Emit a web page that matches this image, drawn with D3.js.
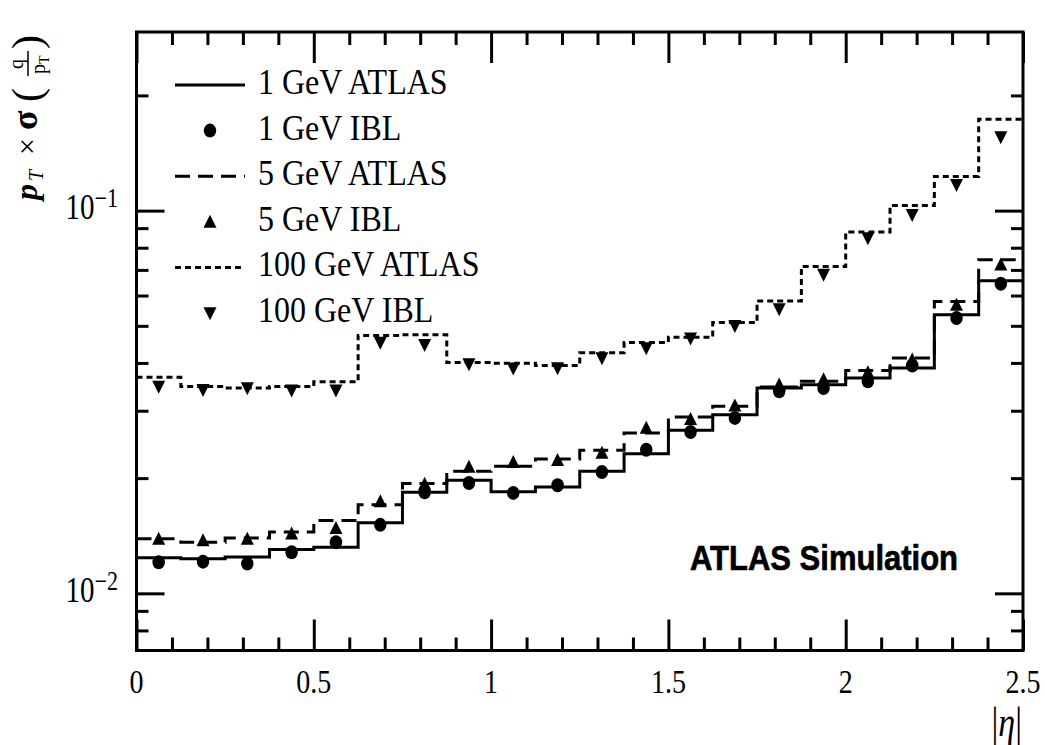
<!DOCTYPE html>
<html>
<head>
<meta charset="utf-8">
<script src="https://cdn.jsdelivr.net/npm/d3@7"></script>
<style>
    body { margin: 0; background: #fff; }
    svg { display: block; }
    .axis path, .axis line { stroke: #000; stroke-width: 3; }
</style>
</head>
<body>
<svg id="chart" width="1045" height="745"></svg>
<script>
// bin low edges in |eta|
const binLow = [0, 0.125, 0.25, 0.375, 0.5, 0.625, 0.75, 0.875, 1.0, 1.125,
    1.25, 1.375, 1.5, 1.625, 1.75, 1.875, 2.0, 2.125, 2.25, 2.375]
const binUp = 2.5

// pT * sigma(q/pT) per bin
const atlas1 = [0.01238, 0.01231, 0.01245, 0.01301, 0.01320, 0.01528, 0.01837, 0.01974, 0.01842, 0.01897,
    0.02084, 0.02317, 0.02667, 0.02929, 0.03440, 0.03510, 0.03653, 0.03880, 0.05345, 0.06557]
const ibl1 = [0.01206, 0.01210, 0.01196, 0.01280, 0.01360, 0.01510, 0.01837, 0.01942, 0.01830, 0.01916,
    0.02076, 0.02373, 0.02640, 0.02873, 0.03372, 0.03440, 0.03580, 0.03940, 0.05240, 0.06440]
const atlas5 = [0.01388, 0.01360, 0.01396, 0.01447, 0.01549, 0.01705, 0.01935, 0.02084, 0.02148, 0.02245,
    0.02364, 0.02624, 0.02890, 0.03080, 0.03460, 0.03580, 0.03824, 0.04120, 0.05789, 0.07437]
const ibl5 = [0.01388, 0.01375, 0.01388, 0.01433, 0.01480, 0.01739, 0.01932, 0.02141, 0.02201, 0.02227,
    0.02327, 0.02704, 0.02852, 0.03092, 0.03510, 0.03620, 0.03780, 0.04080, 0.05670, 0.07220]
const atlas100 = [0.0367, 0.0347, 0.0344, 0.0347, 0.0357, 0.0472, 0.0474, 0.0401, 0.0399, 0.0394,
    0.0425, 0.0452, 0.0467, 0.0510, 0.0581, 0.0715, 0.0879, 0.1031, 0.1228, 0.1733]
const ibl100 = [0.0347, 0.0340, 0.0344, 0.0339, 0.0339, 0.0452, 0.0446, 0.0397, 0.0387, 0.0388,
    0.0412, 0.0437, 0.0464, 0.0500, 0.0553, 0.0680, 0.0848, 0.0975, 0.1168, 0.1556]

const legendLabels = ["1 GeV ATLAS", "1 GeV IBL", "5 GeV ATLAS", "5 GeV IBL", "100 GeV ATLAS", "100 GeV IBL"]
const xTicksMajor = [0, 0.5, 1, 1.5, 2, 2.5]
const xTickLabels = ["0", "0.5", "1", "1.5", "2", "2.5"]
const yTicksMajor = [0.01, 0.1]
const yTickExp = ["\u22122", "\u22121"]
const yTicksMinor = [0.008, 0.009, 0.02, 0.03, 0.04, 0.05, 0.06, 0.07, 0.08, 0.09, 0.2]

let margin = {top: 32, right: 22, bottom: 94.5, left: 136.5}
    , W = 1045, H = 745
let x0 = margin.left, x1 = W - margin.right
let y0 = H - margin.bottom, y1 = margin.top

let xScale = d3.scaleLinear().domain([0, 2.5]).range([x0, x1])
let yScale = d3.scaleLog().domain([0.00709, 0.2929]).range([y0, y1])

const svg = d3.select("#chart")
const serif = "'Liberation Serif', 'Times New Roman', serif"

// custom marker shapes (slightly taller than wide, like the original)
const triUp = { draw(ctx, size) { let s = Math.sqrt(size); ctx.moveTo(0, -0.55 * s); ctx.lineTo(0.5 * s, 0.45 * s); ctx.lineTo(-0.5 * s, 0.45 * s); ctx.closePath() } }
const triDown = { draw(ctx, size) { let s = Math.sqrt(size); ctx.moveTo(0, 0.55 * s); ctx.lineTo(0.5 * s, -0.45 * s); ctx.lineTo(-0.5 * s, -0.45 * s); ctx.closePath() } }
const dot = { draw(ctx, size) { let r = Math.sqrt(size) / 2; ctx.moveTo(r, 0); ctx.arc(0, 0, r, 0, 2 * Math.PI) } }

const series = [
    {name: legendLabels[0], values: atlas1, kind: "line", dash: null},
    {name: legendLabels[1], values: ibl1, kind: "marker", shape: dot, size: 156, sy: 1.12},
    {name: legendLabels[2], values: atlas5, kind: "line", dash: "15,8"},
    {name: legendLabels[3], values: ibl5, kind: "marker", shape: triUp, size: 169, sy: 1.0},
    {name: legendLabels[4], values: atlas100, kind: "line", dash: "6,4"},
    {name: legendLabels[5], values: ibl100, kind: "marker", shape: triDown, size: 169, sy: 1.0},
]

// plot region clip
svg.append("clipPath").attr("id", "clip")
    .append("rect").attr("x", x0).attr("y", y1).attr("width", x1 - x0).attr("height", y0 - y1)

let plot = svg.append("g").attr("clip-path", "url(#clip)")

let step = d3.line()
    .x(d => xScale(d[0]))
    .y(d => yScale(d[1]))
    .curve(d3.curveStepAfter)

series.filter(s => s.kind === "line").forEach(s => {
    let pts = binLow.map((e, i) => [e, s.values[i]])
    pts.push([binUp, s.values[s.values.length - 1]])
    plot.append("path")
        .datum(pts)
        .attr("fill", "none")
        .attr("stroke", "#000")
        .attr("stroke-width", 3)
        .attr("stroke-dasharray", s.dash)
        .attr("d", step)
})

series.filter(s => s.kind === "marker").forEach(s => {
    let sym = d3.symbol().type(s.shape).size(s.size)
    plot.selectAll(null)
        .data(s.values)
        .enter().append("path")
        .attr("transform", (d, i) => "translate(" + xScale(binLow[i] + 0.0625) + "," + yScale(d) + ") scale(1," + s.sy + ")")
        .attr("d", sym)
        .attr("fill", "#000")
})

// axes: ticks on all four sides, pointing inward
function xAxis(gen, ticks, size, y) {
    svg.append("g").attr("class", "axis")
        .attr("transform", "translate(0," + y + ")")
        .call(gen(xScale).tickValues(ticks).tickSize(size).tickSizeOuter(0).tickFormat(""))
        .call(g => g.select(".domain").remove())
}
function yAxis(gen, ticks, size, x) {
    svg.append("g").attr("class", "axis")
        .attr("transform", "translate(" + x + ",0)")
        .call(gen(yScale).tickValues(ticks).tickSize(size).tickSizeOuter(0).tickFormat(""))
        .call(g => g.select(".domain").remove())
}
let xMinor = d3.range(1, 25).map(i => +(i * 0.1).toFixed(1)).filter(v => v % 0.5 !== 0)
xAxis(d3.axisBottom, xTicksMajor, -31, y0)
xAxis(d3.axisBottom, xMinor, -13, y0)
xAxis(d3.axisTop, xTicksMajor, -31, y1)
xAxis(d3.axisTop, xMinor, -13, y1)
yAxis(d3.axisLeft, yTicksMajor, -28, x0)
yAxis(d3.axisLeft, yTicksMinor, -12, x0)
yAxis(d3.axisRight, yTicksMajor, -28, x1)
yAxis(d3.axisRight, yTicksMinor, -12, x1)

svg.append("rect")
    .attr("x", x0).attr("y", y1)
    .attr("width", x1 - x0).attr("height", y0 - y1)
    .attr("fill", "none").attr("stroke", "#000").attr("stroke-width", 3)

// tick labels
svg.selectAll(".xlab")
    .data(xTicksMajor)
    .enter().append("text")
    .attr("transform", d => "translate(" + xScale(d) + ",693) scale(1,1.22)")
    .attr("text-anchor", "middle")
    .attr("font-family", serif).attr("font-size", 28)
    .text((d, i) => xTickLabels[i])

yTicksMajor.forEach((v, i) => {
    let t = svg.append("text")
        .attr("transform", "translate(118," + (yScale(v) + 8.5) + ") scale(1,1.22)")
        .attr("text-anchor", "end")
        .attr("font-family", serif)
    t.append("tspan").attr("font-size", 29).text("10")
    t.append("tspan").attr("font-size", 22).attr("dy", -10).text(yTickExp[i])
})

// axis titles
svg.append("text")
    .attr("transform", "translate(1022,736) scale(1,1.22)")
    .attr("text-anchor", "end")
    .attr("font-family", serif).attr("font-size", 34)
    .call(t => {
        t.append("tspan").text("|")
        t.append("tspan").attr("font-style", "italic").text("\u03b7")
        t.append("tspan").text("|")
    })

let yl = svg.append("g").attr("transform", "translate(37,200) rotate(-90)")
    .attr("font-family", serif)
yl.append("text").attr("x", 0).attr("y", 0).attr("font-size", 32)
    .attr("font-style", "italic").attr("font-weight", "bold").text("p")
yl.append("text").attr("x", 19).attr("y", 6).attr("font-size", 20)
    .attr("font-style", "italic").text("T")
yl.append("text").attr("x", 45).attr("y", 0).attr("font-size", 30).text("\u00d7")
yl.append("text").attr("x", 70).attr("y", 0).attr("font-size", 36)
    .attr("font-weight", "bold").text("\u03c3")
yl.append("text").attr("x", 98).attr("y", 4).attr("font-size", 42).text("(")
yl.append("text").attr("x", 136).attr("y", -14).attr("font-size", 20)
    .attr("text-anchor", "middle").text("q")
yl.append("line").attr("x1", 124).attr("x2", 149).attr("y1", -9).attr("y2", -9)
    .attr("stroke", "#000").attr("stroke-width", 1.5)
yl.append("text").attr("x", 126).attr("y", 8).attr("font-size", 20).text("p")
yl.append("text").attr("x", 136).attr("y", 12).attr("font-size", 14).text("T")
yl.append("text").attr("x", 151).attr("y", 4).attr("font-size", 42).text(")")

// legend
let legend = svg.append("g")
series.forEach((s, i) => {
    let cy = 85 + 45.6 * i
    if (s.kind === "line") {
        legend.append("line")
            .attr("x1", 175).attr("x2", 245).attr("y1", cy).attr("y2", cy)
            .attr("stroke", "#000").attr("stroke-width", 3)
            .attr("stroke-dasharray", s.dash)
    } else {
        legend.append("path")
            .attr("transform", "translate(210," + cy + ") scale(1," + s.sy + ")")
            .attr("d", d3.symbol().type(s.shape).size(s.size))
            .attr("fill", "#000")
    }
    legend.append("text")
        .attr("transform", "translate(258," + (cy + 9) + ") scale(1,1.15)")
        .attr("font-family", serif).attr("font-size", 32)
        .text(s.name)
})

svg.append("text")
    .attr("transform", "translate(690,570) scale(1,1.12)")
    .attr("font-family", "'Liberation Sans', Arial, sans-serif")
    .attr("font-weight", "bold").attr("font-size", 31)
    .attr("stroke", "#000").attr("stroke-width", 0.6)
    .text("ATLAS Simulation")
</script>
</body>
</html>
